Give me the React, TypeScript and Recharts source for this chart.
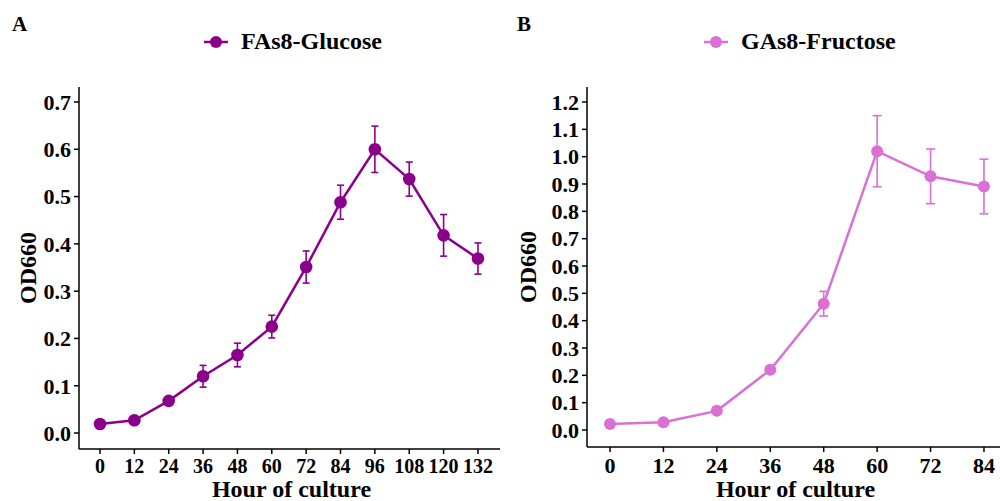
import { LineChart, Line, XAxis, YAxis, ErrorBar, Label, Legend } from "recharts";

// panel A: FAs8 grown on glucose
const hoursA = [0, 12, 24, 36, 48, 60, 72, 84, 96, 108, 120, 132];
const odA = [0.019, 0.027, 0.068, 0.12, 0.165, 0.225, 0.351, 0.488, 0.6, 0.537, 0.418, 0.369];
const sdA = [0.004, 0.004, 0.005, 0.023, 0.025, 0.024, 0.034, 0.036, 0.049, 0.036, 0.044, 0.033];
const yTicksA = [0, 0.1, 0.2, 0.3, 0.4, 0.5, 0.6, 0.7];

// panel B: GAs8 grown on fructose
const hoursB = [0, 12, 24, 36, 48, 60, 72, 84];
const odB = [0.022, 0.028, 0.07, 0.22, 0.462, 1.02, 0.928, 0.891];
const sdB = [0.005, 0.005, 0.006, 0.012, 0.045, 0.13, 0.1, 0.1];
const yTicksB = [0, 0.1, 0.2, 0.3, 0.4, 0.5, 0.6, 0.7, 0.8, 0.9, 1.0, 1.1, 1.2];

const FONT = "'Liberation Serif', 'Times New Roman', serif";

const toRows = (hours: number[], od: number[], sd: number[]) =>
  hours.map((h, i) => ({ hour: h, od: od[i], sd: sd[i] }));

interface PanelProps {
  letter: string;
  name: string;
  color: string;
  hours: number[];
  od: number[];
  sd: number[];
  yTicks: number[];
  xDomain: [number, number];
  yDomain: [number, number];
  yAxisWidth: number;
  xAxisHeight: number;
  xTickFont: number;
  dotR: number;
  capW: number;
}

function Panel(p: PanelProps) {
  const data = toRows(p.hours, p.od, p.sd);
  const tickStyle = { fontFamily: FONT, fontWeight: "bold", fill: "#000" };

  const legend = () => (
    <div style={{ display: "flex", alignItems: "center", fontFamily: FONT, fontWeight: "bold", fontSize: 24, color: "#000" }}>
      <svg width={26} height={14} style={{ marginRight: 12 }}>
        <line x1={1} y1={7} x2={25} y2={7} stroke={p.color} strokeWidth={2.5} />
        <circle cx={13} cy={7} r={6} fill={p.color} />
      </svg>
      <span>{p.name}</span>
    </div>
  );

  return (
    <div style={{ position: "relative", width: 500, height: 501 }}>
      <div style={{ position: "absolute", left: p.letter === "A" ? 12 : 17, top: 12, fontFamily: FONT, fontWeight: "bold", fontSize: 21 }}>
        {p.letter}
      </div>
      <LineChart width={500} height={501} data={data} margin={{ top: 87, right: 0, bottom: 0, left: 0 }}>
        <XAxis
          dataKey="hour"
          type="number"
          domain={p.xDomain}
          allowDataOverflow
          ticks={p.hours}
          interval={0}
          height={p.xAxisHeight}
          tickSize={5}
          tickMargin={5}
          stroke="#000"
          strokeWidth={1.5}
          tick={{ ...tickStyle, fontSize: p.xTickFont }}
        >
          <Label
            content={(lp: any) => {
              const vb = lp.viewBox;
              return (
                <text x={vb.x + vb.width / 2 + 2} y={497} textAnchor="middle" fontFamily={FONT} fontWeight="bold" fontSize={24} fill="#000">
                  Hour of culture
                </text>
              );
            }}
          />
        </XAxis>
        <YAxis
          type="number"
          domain={p.yDomain}
          allowDataOverflow
          ticks={p.yTicks}
          interval={0}
          width={p.yAxisWidth}
          tickSize={5}
          tickMargin={3}
          stroke="#000"
          strokeWidth={1.5}
          tickFormatter={(v: number) => v.toFixed(1)}
          tick={{ ...tickStyle, fontSize: 22 }}
        >
          <Label
            content={(lp: any) => {
              const vb = lp.viewBox;
              const cx = 28;
              const cy = vb.y + vb.height / 2;
              return (
                <text
                  x={cx}
                  y={cy}
                  transform={`rotate(-90 ${cx} ${cy})`}
                  textAnchor="middle"
                  dominantBaseline="central"
                  fontFamily={FONT}
                  fontWeight="bold"
                  fontSize={24}
                  fill="#000"
                >
                  OD660
                </text>
              );
            }}
          />
        </YAxis>
        <Legend
          layout="horizontal"
          verticalAlign="middle"
          align="center"
          content={legend}
          wrapperStyle={{ top: 28, left: 203, width: 260, height: 30 }}
        />
        <Line
          type="linear"
          dataKey="od"
          stroke={p.color}
          strokeWidth={2.5}
          dot={{ r: p.dotR, fill: p.color, stroke: p.color, strokeWidth: 0 }}
          activeDot={false}
          isAnimationActive={false}
        >
          <ErrorBar dataKey="sd" direction="y" width={p.capW} stroke={p.color} strokeWidth={1.6} isAnimationActive={false} />
        </Line>
      </LineChart>
    </div>
  );
}

export default function App() {
  return (
    <div style={{ position: "absolute", left: 0, top: 0, width: 1000, height: 501, background: "#fff", display: "flex" }}>
      <Panel
        letter="A"
        name="FAs8-Glucose"
        color="#8B008B"
        hours={hoursA}
        od={odA}
        sd={sdA}
        yTicks={yTicksA}
        xDomain={[-7.33, 139.7]}
        yDomain={[-0.0338, 0.7317]}
        yAxisWidth={79}
        xAxisHeight={52}
        xTickFont={20}
        dotR={6.3}
        capW={3.5}
      />
      <Panel
        letter="B"
        name="GAs8-Fructose"
        color="#DA70D6"
        hours={hoursB}
        od={odB}
        sd={sdB}
        yTicks={yTicksB}
        xDomain={[-5.17, 87.6]}
        yDomain={[-0.0622, 1.2549]}
        yAxisWidth={87}
        xAxisHeight={54}
        xTickFont={22}
        dotR={6}
        capW={4.5}
      />
    </div>
  );
}
